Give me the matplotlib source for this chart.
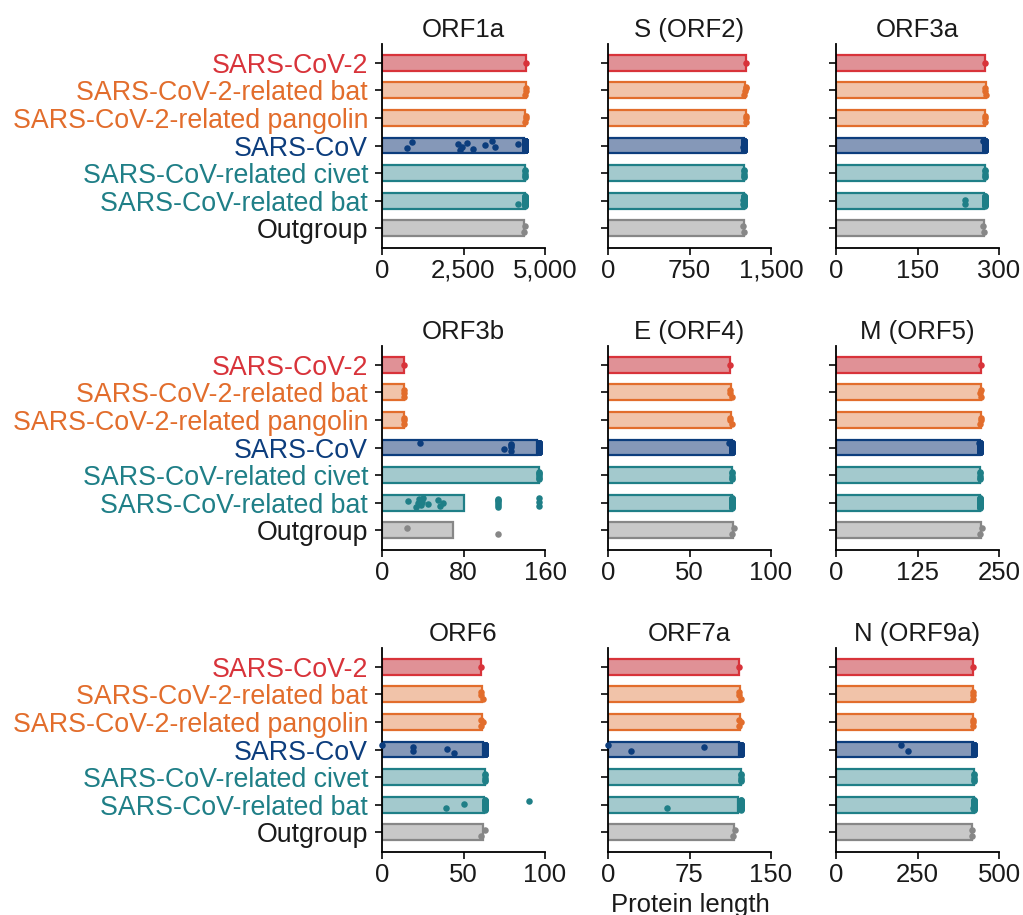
import numpy as np
import matplotlib
matplotlib.use("Agg")
import matplotlib.pyplot as plt
from matplotlib.ticker import FuncFormatter

plt.rcParams['font.family'] = ['Liberation Sans', 'DejaVu Sans']

categories = ["SARS-CoV-2", "SARS-CoV-2-related bat", "SARS-CoV-2-related pangolin",
              "SARS-CoV", "SARS-CoV-related civet", "SARS-CoV-related bat", "Outgroup"]
proteins = ["ORF1a", "S (ORF2)", "ORF3a", "ORF3b", "E (ORF4)", "M (ORF5)",
            "ORF6", "ORF7a", "N (ORF9a)"]
xmax = [5000, 1500, 300, 160, 100, 250, 100, 150, 500]

orf1a = [[4405], [4405, 4400, 4410], [4405, 4398, 4402],
         [4382] * 600 + [910, 770, 2330, 2400, 2450, 2600, 2800, 3160, 3370, 3470, 4170],
         [4382] * 4 + [4377], [4382] * 30 + [4170, 4390], [4375, 4360]]
orf2 = [[1273], [1269, 1256, 1264, 1269], [1269, 1268, 1269],
        [1255] * 150 + [1250, 1241], [1255] * 5, [1255] * 30 + [1241, 1244, 1247], [1245, 1250]]
orf3a = [[275], [275, 276, 275], [274, 275, 275], [274] * 150 + [270],
         [274] * 5, [274] * 30 + [237, 237], [271, 273]]
orf3b = [[22], [22, 22, 22], [22, 22, 22], [154] * 150 + [37, 120] + [127] * 4,
         [154] * 6, [26, 33, 35, 36, 38, 39, 40, 45, 55, 57, 60] + [114] * 6 + [154] * 3,
         [25, 114]]
orf4 = [[75], [75, 76, 75], [75, 76, 75], [76] * 150 + [74], [76] * 5, [76] * 30, [77, 76]]
orf5 = [[222], [222, 222, 221], [222, 221, 222], [221] * 150 + [219], [221] * 5,
        [221] * 30, [224, 221]]
orf6 = [[61], [61, 62, 61], [61, 61, 62], [63] * 150 + [0, 19, 19, 44, 40],
        [63] * 5, [63] * 30 + [39, 50, 90], [63, 61]]
orf7a = [[121], [121, 122, 121], [121, 121, 122], [122] * 150 + [0, 21, 88],
         [122] * 5, [122] * 30 + [54], [117, 115]]
orf9a = [[419], [419, 420, 421], [419, 420, 421], [422] * 150 + [200, 220],
         [422] * 5, [422] * 30 + [421], [416, 418]]
all_data = [orf1a, orf2, orf3a, orf3b, orf4, orf5, orf6, orf7a, orf9a]

edge_colors = ["#d8333a", "#e26d2c", "#e26d2c", "#0c3d7d", "#1f7f87", "#1f7f87", "#878787"]
fill_colors = ["#e09196", "#f1c3a9", "#f1c3a9", "#8598b8", "#a3c9cd", "#a3c9cd", "#c8c8c8"]
label_colors = ["#d8333a", "#e26d2c", "#e26d2c", "#0c3d7d", "#1f7f87", "#1f7f87", "#1a1a1a"]

W, H = 1023, 915
fig = plt.figure(figsize=(W / 100, H / 100), dpi=100)
lefts = [382, 608, 836]
tops = [43.5, 345.5, 647.5]
aw, ah = 163, 204

fmt = FuncFormatter(lambda v, p: f"{v:,.0f}")
ypos = np.arange(len(categories))

for k, (name, data, xm) in enumerate(zip(proteins, all_data, xmax)):
    r, c = divmod(k, 3)
    ax = fig.add_axes([lefts[c] / W, 1 - (tops[r] + ah) / H, aw / W, ah / H])
    means = [np.mean(v) for v in data]
    ax.barh(ypos, means, height=0.58, color=fill_colors, edgecolor=edge_colors,
            linewidth=1.6, zorder=2)
    for i, vals in enumerate(data):
        n = len(vals)
        if n == 1:
            off = np.zeros(1)
        else:
            off = 0.18 * ((((np.arange(n) + 0.5) * 0.618034) % 1) * 2 - 1)
        ax.scatter(vals, i + off, s=22, color=edge_colors[i], linewidths=0, zorder=3,
                   clip_on=False)
    ax.set_xlim(0, xm)
    ax.set_ylim(6.7, -0.7)
    ax.set_xticks([0, xm / 2, xm])
    ax.xaxis.set_major_formatter(fmt)
    ax.set_yticks(ypos)
    ax.tick_params(length=5, width=1.3, colors="#1a1a1a")
    ax.tick_params(axis="x", labelsize=18.5, pad=3)
    ax.tick_params(axis="y", labelsize=19.3, pad=5)
    if c == 0:
        ax.set_yticklabels(categories)
        for lab, col in zip(ax.get_yticklabels(), label_colors):
            lab.set_color(col)
    else:
        ax.set_yticklabels([])
    for s in ["top", "right"]:
        ax.spines[s].set_visible(False)
    for s in ["left", "bottom"]:
        ax.spines[s].set_linewidth(1.3)
    ax.set_title(name, fontsize=18.5, pad=4.5, color="#1a1a1a")

fig.text((608 + 772) / 2 / W, 3 / H, "Protein length", fontsize=18.5, ha="center",
         va="baseline", color="#1a1a1a")

fig.savefig("out.png", dpi=100)
